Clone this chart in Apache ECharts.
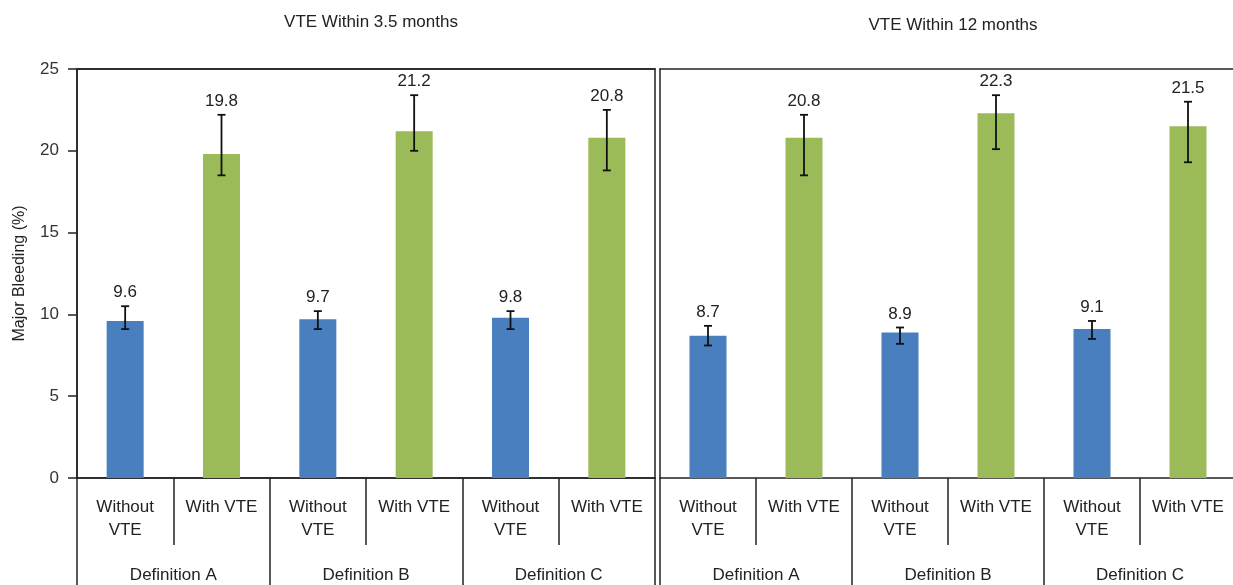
<!DOCTYPE html>
<html><head><meta charset="utf-8">
<script src="https://cdn.jsdelivr.net/npm/echarts@6/dist/echarts.min.js"></script>
<style>html,body{margin:0;padding:0;background:#fff}#c{width:1233px;height:585px}</style>
</head><body><div id="c"></div>
<script>
// ---- data ----
const panelTitles = ['VTE Within 3.5 months', 'VTE Within 12 months'];
const definitions = ['Definition A', 'Definition B', 'Definition C'];
const groupLabels = ['Without\nVTE', 'With VTE'];
const yAxisName = 'Major Bleeding (%)';
const yMin = 0, yMax = 25, yStep = 5;

const without35 = [9.6, 9.7, 9.8];
const without35Low = [9.1, 9.1, 9.1];
const without35High = [10.5, 10.2, 10.2];
const with35 = [19.8, 21.2, 20.8];
const with35Low = [18.5, 20.0, 18.8];
const with35High = [22.2, 23.4, 22.5];

const without12 = [8.7, 8.9, 9.1];
const without12Low = [8.1, 8.2, 8.5];
const without12High = [9.3, 9.2, 9.6];
const with12 = [20.8, 22.3, 21.5];
const with12Low = [18.5, 20.1, 19.3];
const with12High = [22.2, 23.4, 23.0];

// ---- build ----
const FONT = '"Liberation Sans", Arial, Helvetica, sans-serif';
const INK = '#222';
const BLUE = '#4a7fbf', GREEN = '#9bbb59';
const cats = [];
definitions.forEach(() => groupLabels.forEach(g => cats.push(g)));

function buildBars(wo, wi) {
  const d = [];
  for (let i = 0; i < definitions.length; i++) {
    d.push({ value: wo[i], itemStyle: { color: BLUE } });
    d.push({ value: wi[i], itemStyle: { color: GREEN } });
  }
  return d;
}
function buildErr(wo, woL, woH, wi, wiL, wiH) {
  const d = [];
  for (let i = 0; i < definitions.length; i++) {
    d.push([2 * i, woL[i], woH[i], wo[i]]);
    d.push([2 * i + 1, wiL[i], wiH[i], wi[i]]);
  }
  return d;
}
function renderErr(params, api) {
  const x = api.value(0), lo = api.value(1), hi = api.value(2), v = api.value(3);
  const pH = api.coord([x, hi]), pL = api.coord([x, lo]);
  const cap = 4;
  const st = { stroke: '#111', lineWidth: 1.8 };
  return { type: 'group', children: [
    { type: 'line', shape: { x1: pH[0], y1: pH[1], x2: pL[0], y2: pL[1] }, style: st },
    { type: 'line', shape: { x1: pH[0] - cap, y1: pH[1], x2: pH[0] + cap, y2: pH[1] }, style: st },
    { type: 'line', shape: { x1: pL[0] - cap, y1: pL[1], x2: pL[0] + cap, y2: pL[1] }, style: st },
    { type: 'text', x: pH[0], y: pH[1] - 5, style: { text: v.toFixed(1), fill: INK, fontSize: 17, fontFamily: FONT, align: 'center', verticalAlign: 'bottom' } }
  ]};
}

const lineSt = { color: INK, width: 1.5 };
function xAxesFor(gi) {
  return [
    { gridIndex: gi, type: 'category', data: cats, position: 'bottom',
      axisLine: { show: true, onZero: false, lineStyle: lineSt },
      axisTick: { show: true, interval: 0, alignWithLabel: false, length: 67, lineStyle: lineSt },
      axisLabel: { show: true, interval: 0, margin: 18, fontSize: 17, lineHeight: 23, color: INK, fontFamily: FONT } },
    { gridIndex: gi, type: 'category', data: definitions, position: 'bottom',
      axisLine: { show: false, onZero: false },
      axisTick: { show: true, interval: 0, alignWithLabel: false, length: 110, lineStyle: lineSt },
      axisLabel: { show: true, interval: 0, margin: 89, fontSize: 17, color: INK, fontFamily: FONT } },
    { gridIndex: gi, type: 'category', data: cats, position: 'top',
      axisLine: { show: true, onZero: false, lineStyle: lineSt },
      axisTick: { show: false }, axisLabel: { show: false } }
  ];
}

const option = {
  animation: false,
  backgroundColor: '#fff',
  title: [
    { text: panelTitles[0], left: 366, top: 9, textAlign: 'center', textStyle: { fontSize: 17, fontWeight: 'normal', color: INK, fontFamily: FONT } },
    { text: panelTitles[1], left: 948, top: 12, textAlign: 'center', textStyle: { fontSize: 17, fontWeight: 'normal', color: INK, fontFamily: FONT } }
  ],
  grid: [
    { left: 77, top: 69, width: 578, height: 409, show: true, borderColor: INK, borderWidth: 1.5, containLabel: false, outerBoundsMode: 'none' },
    { left: 660, top: 69, width: 576, height: 409, show: false, containLabel: false, outerBoundsMode: 'none' }
  ],
  xAxis: [...xAxesFor(0), ...xAxesFor(1)],
  yAxis: [
    { gridIndex: 0, type: 'value', min: yMin, max: yMax, interval: yStep,
      axisLine: { show: true, lineStyle: lineSt }, axisTick: { show: true, length: 9, lineStyle: lineSt },
      axisLabel: { margin: 18, fontSize: 17, color: '#333', fontFamily: FONT }, splitLine: { show: false },
      name: yAxisName, nameLocation: 'middle', nameGap: 49, nameRotate: 90,
      nameTextStyle: { fontSize: 16, color: INK, fontFamily: FONT } },
    { gridIndex: 1, type: 'value', min: yMin, max: yMax, interval: yStep,
      axisLine: { show: true, lineStyle: lineSt }, axisTick: { show: false }, axisLabel: { show: false },
      splitLine: { show: false } }
  ],
  series: [
    { type: 'bar', xAxisIndex: 0, yAxisIndex: 0, barWidth: 37, data: buildBars(without35, with35) },
    { type: 'bar', xAxisIndex: 3, yAxisIndex: 1, barWidth: 37, data: buildBars(without12, with12) },
    { type: 'custom', xAxisIndex: 0, yAxisIndex: 0, renderItem: renderErr, z: 5, clip: false,
      encode: { x: 0, y: [1, 2] }, data: buildErr(without35, without35Low, without35High, with35, with35Low, with35High) },
    { type: 'custom', xAxisIndex: 3, yAxisIndex: 1, renderItem: renderErr, z: 5, clip: false,
      encode: { x: 0, y: [1, 2] }, data: buildErr(without12, without12Low, without12High, with12, with12Low, with12High) }
  ]
};
const chart = echarts.init(document.getElementById('c'), null, { renderer: 'canvas' });
chart.setOption(option);
</script></body></html>
